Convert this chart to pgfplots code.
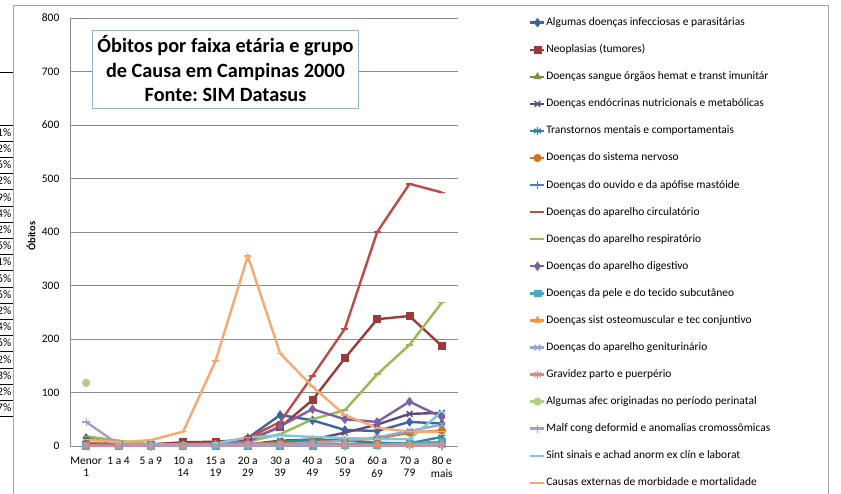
\documentclass[border=0pt]{standalone}
\usepackage{fontspec}
\setmainfont{Carlito}
\usepackage{pgfplots}
\pgfplotsset{compat=1.18}
\usepackage{pgfplotstable}
\definecolor{c1}{HTML}{3C679E}
\definecolor{c2}{HTML}{9B3B38}
\definecolor{c3}{HTML}{77933C}
\definecolor{c4}{HTML}{604A7B}
\definecolor{c5}{HTML}{31859C}
\definecolor{c6}{HTML}{D2711F}
\definecolor{c7}{HTML}{4A7EBB}
\definecolor{c8}{HTML}{BE4B48}
\definecolor{c9}{HTML}{98B954}
\definecolor{c10}{HTML}{7D60A0}
\definecolor{c11}{HTML}{46AAC5}
\definecolor{c12}{HTML}{F69240}
\definecolor{c13}{HTML}{8FA9D5}
\definecolor{c14}{HTML}{D98A88}
\definecolor{c15}{HTML}{B0CE87}
\definecolor{c16}{HTML}{AC9BC8}
\definecolor{c17}{HTML}{7FC6DD}
\definecolor{c18}{HTML}{F9A870}
\definecolor{gridgray}{HTML}{8C8C8C}
\definecolor{framegray}{HTML}{A6A6A6}
\definecolor{boxblue}{HTML}{95B3D7}
\pgfplotstableread{
x s1 s2 s3 s4 s5 s6 s7 s8 s9 s10 s11 s12 s13 s14 s15 s16 s17 s18
0 15 2 3 2 0 6 1 3 18 3 0 0 1 0 118 45 nan 12
1 3 2 1 1 0 3 0 1 10 1 0 0 0 0 nan 3 nan 7
2 1 3 1 0 0 4 0 1 3 0 0 0 0 0 nan 2 nan 11
3 1 7 1 1 0 2 0 3 3 1 0 0 0 0 nan 1 nan 27
4 2 8 1 1 1 3 0 5 4 2 0 1 1 3 nan 1 5 159
5 15 12 2 3 3 4 0 15 8 8 0 2 2 5 nan 1 16 355
6 58 35 3 10 8 5 0 45 22 37 1 2 3 3 nan 1 20 173
7 48 86 4 12 12 8 0 131 50 69 1 3 6 1 nan 1 17 111
8 30 164 3 25 10 10 0 219 67 50 2 2 10 0 nan 1 15 58
9 28 237 4 40 6 14 0 400 134 45 3 2 16 0 nan 1 13 34
10 45 243 3 60 5 25 0 490 189 83 5 3 28 0 nan 1 13 27
11 42 187 3 62 17 29 0 474 268 54 8 4 40 0 nan 1 64 27
}\data
\begin{document}
\frenchspacing
\begin{tikzpicture}
\begin{axis}[
  at={(52.5pt,-334.5pt)}, anchor=south west,
  width=291pt, height=321pt, scale only axis,
  xmin=-0.5, xmax=11.5, ymin=0, ymax=800,
  xtick={0,...,11},
  xticklabels={{Menor\\1},{1 a 4},{5 a 9},{10 a\\14},{15 a\\19},{20 a\\29},{30 a\\39},{40 a\\49},{50 a\\59},{60 a\\69},{70 a\\79},{80 e\\mais}},
  ytick={0,100,...,800},
  ymajorgrids, grid style={draw=gridgray, line width=0.75pt},
  axis x line*=bottom, axis y line*=left,
  axis line style={draw=gridgray, line width=0.75pt, -},
  major tick length=0pt,
  /pgf/number format/assume math mode=true,
  tick label style={font=\fontsize{8.6}{9.4}\selectfont, inner sep=0pt},
  xticklabel style={align=center, yshift=-8pt},
  yticklabel style={xshift=-7.8pt},
  unbounded coords=jump,
  every axis plot/.append style={line width=1.8pt},
  mark size=2.7pt,
  legend style={at={(1.1727,1.0093)}, anchor=north west, draw=none, fill=none,
    row sep=11.8pt, column sep=0.5pt, font=\fontsize{8.6}{9}\selectfont,
    nodes={inner sep=0pt, text height=6.5pt, text depth=2pt}},
  legend cell align=left,
  legend image code/.code={\draw[mark repeat=2,mark phase=2,#1] plot coordinates {(0pt,0pt)(5.25pt,0pt)(10.5pt,0pt)};},
]
\addplot[c1, mark=diamond*, mark size=3.2pt, mark options={solid, line width=0.5pt}] table[x=x,y=s1]{\data};
\addplot[c2, mark=square*, mark size=2.6pt, mark options={solid, line width=0.5pt}] table[x=x,y=s2]{\data};
\addplot[c3, mark=triangle*, mark size=3pt, mark options={solid, line width=0.5pt}] table[x=x,y=s3]{\data};
\addplot[c4, mark=x, mark size=3pt, mark options={solid, line width=1pt}] table[x=x,y=s4]{\data};
\addplot[c5, mark=asterisk, mark size=3pt, mark options={solid, line width=1pt}] table[x=x,y=s5]{\data};
\addplot[c6, mark=*, mark size=2.8pt, mark options={solid, line width=0.5pt}] table[x=x,y=s6]{\data};
\addplot[c7, mark=+, mark size=3pt, mark options={solid, line width=1pt}] table[x=x,y=s7]{\data};
\addplot[c8, mark=-, mark size=2.6pt, mark options={solid, line width=1.3pt}] table[x=x,y=s8]{\data};
\addplot[c9, mark=-, mark size=2.6pt, mark options={solid, line width=1.3pt}] table[x=x,y=s9]{\data};
\addplot[c10, mark=diamond*, mark size=3.2pt, mark options={solid, line width=0.5pt}] table[x=x,y=s10]{\data};
\addplot[c11, mark=square*, mark size=2.6pt, mark options={solid, line width=0.5pt}] table[x=x,y=s11]{\data};
\addplot[c12, mark=triangle*, mark size=3pt, mark options={solid, line width=0.5pt}] table[x=x,y=s12]{\data};
\addplot[c13, mark=x, mark size=3pt, mark options={solid, line width=1pt}] table[x=x,y=s13]{\data};
\addplot[c14, mark=asterisk, mark size=3pt, mark options={solid, line width=1pt}] table[x=x,y=s14]{\data};
\addplot[c15, mark=*, mark size=2.8pt, mark options={solid, line width=0.5pt}] table[x=x,y=s15]{\data};
\addplot[c16, mark=+, mark size=3pt, mark options={solid, line width=1pt}] table[x=x,y=s16]{\data};
\addplot[c17, mark=-, mark size=2.6pt, mark options={solid, line width=1.3pt}] table[x=x,y=s17]{\data};
\addplot[c18, mark=-, mark size=2.6pt, mark options={solid, line width=1.3pt}] table[x=x,y=s18]{\data};
\legend{Algumas doenças infecciosas e parasitárias,
Neoplasias (tumores),
Doenças sangue órgãos hemat e transt imunitár,
Doenças endócrinas nutricionais e metabólicas,
Transtornos mentais e comportamentais,
Doenças do sistema nervoso,
Doenças do ouvido e da apófise mastóide,
Doenças do aparelho circulatório,
Doenças do aparelho respiratório,
Doenças do aparelho digestivo,
Doenças da pele e do tecido subcutâneo,
Doenças sist osteomuscular e tec conjuntivo,
Doenças do aparelho geniturinário,
Gravidez parto e puerpério,
Algumas afec originadas no período perinatal,
Malf cong deformid e anomalias cromossômicas,
Sint sinais e achad anorm ex clín e laborat,
Causas externas de morbidade e mortalidade}
\end{axis}
\begin{scope}[x=0.75pt,y=-0.75pt]
  \draw[framegray, line width=0.75pt] (13,500) -- (13,5) -- (828,5) -- (828,500);
  \node[draw=boxblue, line width=0.75pt, fill=white, align=center, inner sep=0pt,
        minimum width=200pt, minimum height=58.5pt,
        font=\bfseries\fontsize{15.2}{18.4}\selectfont] at (225.5,69) {Óbitos por faixa etária e grupo\\ de Causa em Campinas 2000\\Fonte: SIM Datasus};
  \node[rotate=90, font=\bfseries\fontsize{7.8}{9}\selectfont, inner sep=0pt] at (31,236) {Óbitos};
  \draw[black, line width=0.75pt] (0,72) -- (12.5,72);
  \foreach \i in {0,...,18} { \draw[black, line width=0.75pt] (0,{125+16.2*\i}) -- (12.5,{125+16.2*\i}); }
  \foreach \t [count=\i from 0] in {1,2,6,2,9,4,2,6,1,6,6,2,4,6,2,3,2,7} {
    \node[anchor=east, inner sep=0pt, font=\fontsize{8.6}{9}\selectfont] at (11.5,{133.1+16.2*\i}) {0,0\t\%};
  }
\end{scope}
\pgfresetboundingbox
\path[use as bounding box] (0,0) rectangle (630.75pt,-369.75pt);
\end{tikzpicture}
\end{document}
